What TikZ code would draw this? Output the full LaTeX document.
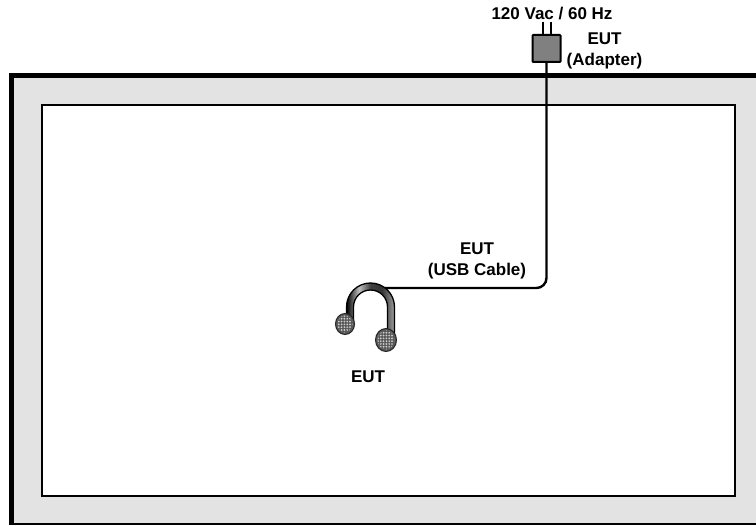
\documentclass[tikz,border=0pt]{standalone}
\usepackage{fontspec}
\setmainfont{Liberation Sans}
\usetikzlibrary{patterns,shapes.geometric}
\definecolor{roomgray}{gray}{0.89}
\definecolor{boxgray}{gray}{0.5}
\pgfdeclarepatternformonly{meshdots}{\pgfqpoint{-1.2pt}{-1.2pt}}{\pgfqpoint{1.2pt}{1.2pt}}{\pgfqpoint{2.8pt}{2.8pt}}{\pgfpathcircle{\pgfqpoint{0pt}{0pt}}{0.95pt}\pgfusepath{fill}}
\tikzset{
  x=1pt,y=-1pt,
  lbl/.style={inner sep=0pt,align=center,font=\fontsize{17}{21}\selectfont\bfseries},
  cable/.style={line width=2.4pt,draw=black,rounded corners=10pt},
  cupnode/.style={ellipse,draw=black!85,line width=1pt,fill=black!65,inner sep=0pt},
  mesh/.style={pattern=meshdots,pattern color=black!18}
}
\pgfdeclarehorizontalshading{bandshade}{100bp}{color(0bp)=(black);color(25bp)=(black);color(38bp)=(black!25);color(50bp)=(black!75);color(62bp)=(black!80);color(75bp)=(black!38);color(88bp)=(black!45);color(100bp)=(black)}
\begin{document}
\begin{tikzpicture}
\useasboundingbox (0,0) rectangle (756,526);
\fill[white] (0,0) rectangle (756,526);
% room
\fill[roomgray] (11.5,75.5) rectangle (756,524.5);
\draw[line width=5pt] (756,75.5) -- (11.5,75.5) -- (11.5,524.5);
\fill[black] (9,522.6) rectangle (756,525);
\node[draw=black,line width=1.6pt,fill=white,minimum width=693pt,minimum height=391pt,inner sep=0pt,anchor=north west] (inner) at (41.3,104.5) {};
% adapter
\node[draw=black,line width=2pt,fill=boxgray,rounded corners=0.8pt,minimum width=28pt,minimum height=27pt,inner sep=0pt] (adapter) at (546.5,48.5) {};
\coordinate (p1t) at (543,22); \coordinate (p2t) at (551,22);
\draw[line width=1.6pt] (p1t) -- (p1t |- adapter.north);
\draw[line width=1.6pt] (p2t) -- (p2t |- adapter.north);
% cable
\coordinate (bandtop) at (385,288);
\draw[cable] (adapter.south) -- (546.5,288) -- (bandtop);
% headphones band
\path[draw=black,line width=1.3pt,shade,shading=bandshade]
  (346.5,327) -- (346.5,307) arc[start angle=180,end angle=360,radius=24] -- (394.5,338)
  -- (387.5,338) -- (387.5,307) arc[start angle=360,end angle=180,radius=17] -- (353.5,327) -- cycle;
% ear cups
\node[cupnode,minimum width=19pt,minimum height=21pt] (cupL) at (345,324) {};
\node[cupnode,minimum width=21pt,minimum height=23pt] (cupR) at (386,340) {};
\fill[mesh] (cupL.center) ellipse[x radius=7.5,y radius=8.5];
\fill[mesh] (cupR.center) ellipse[x radius=8.5,y radius=9.5];
% labels
\node[lbl] (l1) at (552,14) {120 Vac / 60 Hz};
\node[lbl] (l2) at (604.5,50.5) {EUT\\(Adapter)};
\node[lbl] (l3) at (477,261) {EUT\\(USB Cable)};
\node[lbl] (l4) at (368,377) {EUT};
\end{tikzpicture}
\end{document}
